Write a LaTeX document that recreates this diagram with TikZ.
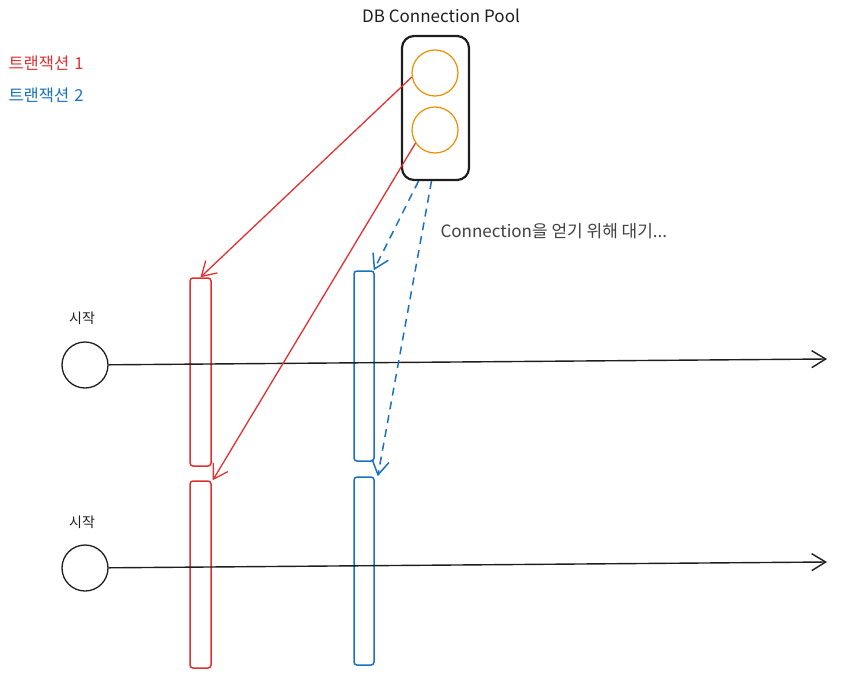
\documentclass[tikz,border=0pt]{standalone}
\usepackage{fontspec}
\setmainfont{Noto Sans CJK KR}
\usepackage{xcolor}
\usetikzlibrary{positioning,arrows.meta}
\definecolor{txred}{HTML}{E03131}
\definecolor{txblue}{HTML}{1971C2}
\definecolor{connorange}{HTML}{F08C00}
\definecolor{inkdark}{HTML}{1E1E1E}

\begin{document}
\begin{tikzpicture}[
    x=1pt, y=-1pt,
    conn/.style={circle,draw=connorange,line width=1.2pt,minimum size=46pt,inner sep=0pt},
    pool/.style={draw=inkdark,line width=2.2pt,rounded corners=12pt,minimum width=67pt,minimum height=144pt},
    txbar/.style={draw,line width=1.5pt,rounded corners=3pt,minimum width=21pt,inner sep=0pt},
    start/.style={circle,draw=inkdark,line width=1.3pt,minimum size=46pt,inner sep=0pt},
    tip/.style={-{Straight Barb[length=14pt,width=17pt]}},
    label/.style={font=\fontsize{14}{16}\selectfont,text=inkdark},
    legend/.style={font=\fontsize{16.5}{19}\selectfont,anchor=west}
]
\useasboundingbox (0,0) rectangle (850,679);

% legend
\node[legend,text=txred] (leg1) at (5,63) {트랜잭션\hspace{5pt}1};
\node[legend,text=txblue] (leg2) at (5,95) {트랜잭션\hspace{5pt}2};

% connection pool
\node[label,font=\fontsize{17}{20}\selectfont] (pooltitle) at (441,16) {DB Connection Pool};
\node[pool] (pool) at (435.5,108) {};
\node[conn] (c1) at (435,73) {};
\node[conn] (c2) at (435,130) {};

% transaction bars
\node[txbar,draw=txred,minimum height=188pt] (rbar1) at (200.5,372) {};
\node[txbar,draw=txred,minimum height=187pt] (rbar2) at (200.5,574.5) {};
\node[txbar,draw=txblue,minimum width=20pt,minimum height=190pt] (bbar1) at (364,366) {};
\node[txbar,draw=txblue,minimum width=20pt,minimum height=188pt] (bbar2) at (364,571) {};

% timelines
\node[start] (s1) at (85,365) {};
\node[start] (s2) at (85,568) {};
\node[label] (start1) at (82,318) {시작};
\node[label] (start2) at (82,522) {시작};
\coordinate (end1) at (827,359);
\coordinate (end2) at (827,562);
\draw[tip,line width=1.4pt,draw=inkdark] (s1) -- (end1);
\draw[tip,line width=1.4pt,draw=inkdark] (s2) -- (end2);

% connections
\draw[tip,line width=1.3pt,txred] (c1.190) -- (rbar1.north);
\draw[tip,line width=1.3pt,txred] (c2.214) -- ([xshift=1pt]rbar2.north east);
\draw[tip,line width=1.5pt,txblue,dash pattern=on 8pt off 6pt] ([xshift=-17pt]pool.south) -- ([xshift=-1pt]bbar1.north east);
\draw[tip,line width=1.5pt,txblue,dash pattern=on 8pt off 6pt] ([xshift=-4pt]pool.south) -- ([xshift=3pt]bbar2.north east);

\node[font=\fontsize{17}{20}\selectfont,text=inkdark!85,anchor=west] (wait) at (437,231) {Connection을 얻기 위해 대기...};

\end{tikzpicture}
\end{document}
